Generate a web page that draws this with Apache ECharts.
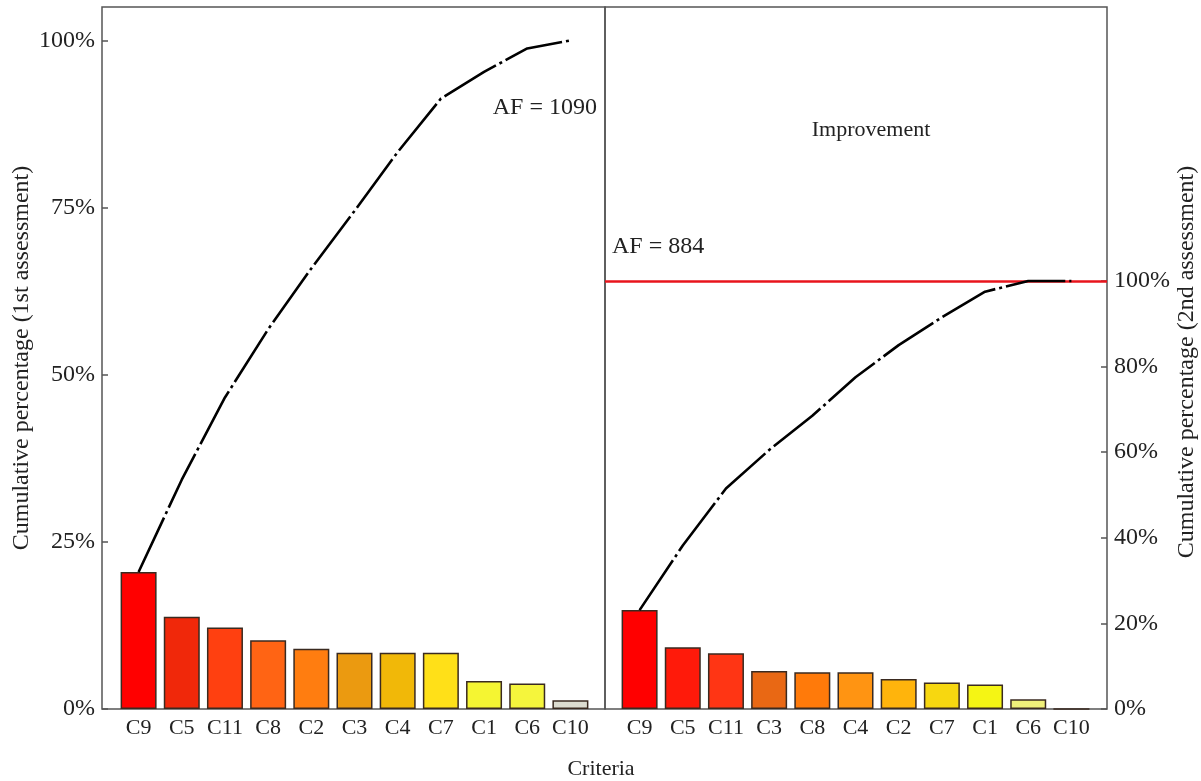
<!DOCTYPE html>
<html>
<head>
<meta charset="utf-8">
<title>Pareto - 1st and 2nd assessment</title>
<script src="https://cdn.jsdelivr.net/npm/echarts@6/dist/echarts.min.js"></script>
<style>
  html, body { margin: 0; background: #fff; }
  #chart { width: 1201px; height: 781px; }
</style>
</head>
<body>
<div id="chart"></div>
<script>
// 1st assessment (left panel)
const firstCriteria = ['C9', 'C5', 'C11', 'C8', 'C2', 'C3', 'C4', 'C7', 'C1', 'C6', 'C10']
const firstShare = [20.5, 13.8, 12.2, 10.3, 9.0, 8.4, 8.4, 8.4, 4.2, 3.8, 1.3]
const firstCumulative = [20.5, 34.3, 46.6, 56.8, 65.9, 74.5, 83.3, 91.3, 95.3, 98.8, 100]
const firstTicks = [0, 25, 50, 75, 100]
const firstAF = 1090

// 2nd assessment (right panel)
const secondCriteria = ['C9', 'C5', 'C11', 'C3', 'C8', 'C4', 'C2', 'C7', 'C1', 'C6', 'C10']
const secondShare = [23.1, 14.4, 13.0, 8.9, 8.6, 8.6, 7.0, 6.2, 5.7, 2.3, 0]
const secondCumulative = [23.1, 38.2, 51.5, 60.5, 68.5, 77.5, 85.0, 91.5, 97.5, 100, 100]
const secondTicks = [0, 20, 40, 60, 80, 100]
const secondAF = 884
const targetLevel = 100

// bar fill colours, same order as the criteria
const firstColors = ['#ff0000', '#f0280a', '#ff4010', '#ff6414', '#ff7d10', '#eb9a10', '#f1b808', '#ffe018', '#f5f532', '#f5f53c', '#dcdcd0']
const secondColors = ['#ff0000', '#ff1a0a', '#ff3514', '#e96814', '#ff7a0a', '#ff9412', '#ffb40c', '#f7d710', '#f5f514', '#f0f07a', '#f0f07a']

const FONT = '"Liberation Serif", "Times New Roman", serif'
const TEXT = '#222'
const FRAME = '#555'

const chart = echarts.init(document.getElementById('chart'))

function catAxis(gridIndex, data) {
  return {
    gridIndex,
    type: 'category',
    data,
    axisLine: { show: false },
    axisTick: { show: false },
    axisLabel: { interval: 0, hideOverlap: false, margin: 8, fontSize: 22, fontFamily: FONT, color: TEXT }
  }
}

function pctAxis(gridIndex, max, ticks, position, offset) {
  return {
    gridIndex,
    type: 'value',
    position,
    offset,
    min: 0,
    max,
    axisLine: { show: false },
    axisTick: { show: true, inside: true, length: 6, customValues: ticks, lineStyle: { color: FRAME, width: 1.5 } },
    axisLabel: { customValues: ticks, formatter: '{value}%', margin: 7, fontSize: 24, fontFamily: FONT, color: TEXT },
    splitLine: { show: false }
  }
}

function bars(xi, values, colors) {
  return {
    type: 'bar',
    xAxisIndex: xi,
    yAxisIndex: xi,
    barWidth: 36,
    data: values.map((v, i) => ({ value: v, itemStyle: { color: colors[i] } })),
    itemStyle: { borderColor: '#3a2a20', borderWidth: 1.5 },
    z: 2
  }
}

function cumLine(xi, values) {
  return {
    type: 'line',
    xAxisIndex: xi,
    yAxisIndex: xi,
    data: values,
    symbol: 'none',
    lineStyle: { color: '#000', width: 2.6, type: [60, 4, 3, 4] },
    z: 5
  }
}

function label(x, y, text, align, size, rotation) {
  return {
    type: 'text', x, y, rotation: rotation || 0,
    style: { text, align, verticalAlign: 'middle', font: size + 'px ' + FONT, fill: TEXT }
  }
}

chart.setOption({
  animation: false,
  grid: [
    // panel frames
    { left: 102, top: 7, width: 503, height: 702, show: true, borderColor: FRAME, borderWidth: 1.5 },
    { left: 605, top: 7, width: 502, height: 702, show: true, borderColor: FRAME, borderWidth: 1.5 },
    // data areas
    { left: 117, top: 7, width: 475, height: 702 },
    { left: 618, top: 7, width: 475, height: 702 }
  ],
  xAxis: [
    { gridIndex: 0, type: 'value', min: 0, max: 1, show: false },
    { gridIndex: 1, type: 'value', min: 0, max: 1, show: false },
    catAxis(2, firstCriteria),
    catAxis(3, secondCriteria)
  ],
  yAxis: [
    { gridIndex: 0, type: 'value', min: 0, max: 105, show: false },
    { gridIndex: 1, type: 'value', min: 0, max: 164, show: false },
    pctAxis(2, 105, firstTicks, 'left', 15),
    pctAxis(3, 164, secondTicks, 'right', 14)
  ],
  series: [
    {
      type: 'line',
      xAxisIndex: 1,
      yAxisIndex: 1,
      data: [],
      z: 1,
      markLine: {
        silent: true,
        symbol: 'none',
        label: { show: false },
        lineStyle: { color: '#e8141c', width: 2.5, type: 'solid' },
        data: [{ yAxis: targetLevel }]
      }
    },
    bars(2, firstShare, firstColors),
    cumLine(2, firstCumulative),
    bars(3, secondShare, secondColors),
    cumLine(3, secondCumulative)
  ],
  graphic: [
    label(597, 108, 'AF = ' + firstAF, 'right', 24),
    label(612, 247, 'AF = ' + secondAF, 'left', 24),
    label(871, 130, 'Improvement', 'center', 22),
    label(22, 358, 'Cumulative percentage (1st assessment)', 'center', 24, Math.PI / 2),
    label(1187, 362, 'Cumulative percentage (2nd assessment)', 'center', 24, Math.PI / 2),
    label(601, 769, 'Criteria', 'center', 22)
  ]
})
</script>
</body>
</html>
